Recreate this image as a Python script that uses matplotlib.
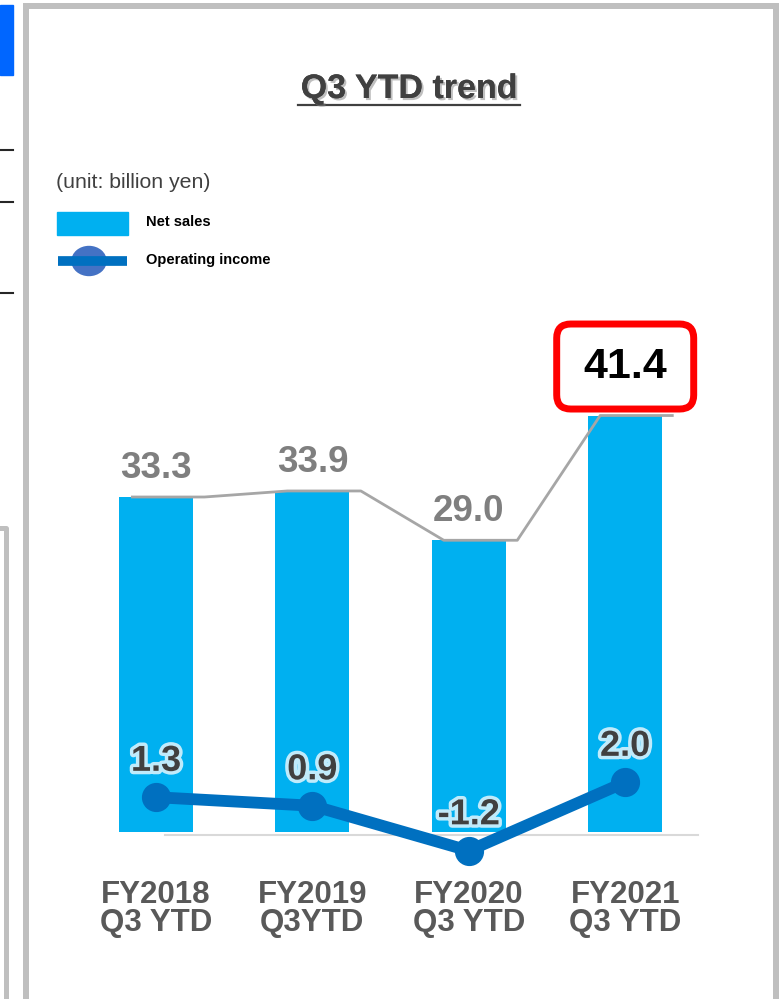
import numpy as np
import matplotlib.pyplot as plt
import matplotlib.patheffects as pe
from matplotlib.patches import Rectangle, FancyBboxPatch, Ellipse
from matplotlib.lines import Line2D

plt.rcParams['font.family'] = ['Liberation Sans', 'DejaVu Sans']

# data (billion yen)
periods = ["FY2018\nQ3 YTD", "FY2019\nQ3YTD", "FY2020\nQ3 YTD", "FY2021\nQ3 YTD"]
net_sales = [33.3, 33.9, 29.0, 41.4]
op_income = [1.3, 0.9, -1.2, 2.0]

BAR_C = '#00B0F0'
LINE_C = '#0070C0'
GREY_TXT = '#7F7F7F'
DARK_TXT = '#404040'
FRAME_C = '#BFBFBF'

W, H = 779, 999
fig = plt.figure(figsize=(W / 100, H / 100), dpi=100)


def fx(x):
    return x / W


def fy(y):
    return 1 - y / H


# ---- chart axes (net sales on ax, operating income on ax2)
ax = fig.add_axes([fx(77.8), fy(862.2), 625.6 / W, 482.9 / H])
ax.set_xlim(-0.5, 3.5)
ax.set_ylim(-3, 45)
x = np.arange(len(periods))

ax.bar(x, net_sales, width=0.473, color=BAR_C, zorder=2)

# step connector over the bar tops
cx, cy = [], []
for i, v in zip(x, net_sales):
    cx += [i - 0.16, i + 0.31]
    cy += [v, v]
ax.plot(cx, cy, color='#A6A6A6', lw=2, zorder=3, solid_capstyle='butt')

# baseline
ax.plot([0.06, 3.465], [-0.3, -0.3], color='#D9D9D9', lw=1.5, zorder=1)

for i, v in zip(x[:-1], net_sales[:-1]):
    ax.annotate(f"{v:.1f}", (i, v), xytext=(0, 14), textcoords='offset points',
                ha='center', va='baseline', fontsize=26.5, fontweight='bold',
                color=GREY_TXT)

# highlighted latest value in a red rounded box
last = len(net_sales) - 1
box_w, box_h = 0.876, 8.45
box_cy = net_sales[last] + 4.87
aspect = 156.4 / 10.06
box = FancyBboxPatch((x[last] - box_w / 2, box_cy - box_h / 2), box_w, box_h,
                     boxstyle='round,pad=0,rounding_size=0.09',
                     mutation_aspect=aspect, fc='white', ec='#FF0000', lw=5,
                     clip_on=False, zorder=4)
ax.add_patch(box)
ax.text(x[last], box_cy, f"{net_sales[last]:.1f}", ha='center', va='center',
        fontsize=31, fontweight='bold', color='black', zorder=5, clip_on=False)

ax.set_xticks(x, periods)
ax.tick_params(axis='x', length=0, pad=13)
for lab in ax.get_xticklabels():
    lab.set_fontsize(22.5)
    lab.set_fontweight('bold')
    lab.set_color('#595959')
    lab.set_linespacing(0.9)
ax.set_yticks([])
for s in ax.spines.values():
    s.set_visible(False)

ax2 = ax.twinx()
ax2.set_ylim(-1.738, 20.83)
ax2.plot(x, op_income, color=LINE_C, lw=8.5, marker='o', markersize=20,
         solid_capstyle='round', zorder=5, clip_on=False)
for i, v in zip(x, op_income):
    ax2.annotate(f"{v:.1f}", (i, v), xytext=(0, 19), textcoords='offset points',
                 ha='center', va='baseline', fontsize=26, fontweight='bold',
                 color=DARK_TXT,
                 path_effects=[pe.withStroke(linewidth=5, foreground='#F2FAFF', alpha=0.8)])
ax2.set_yticks([])
for s in ax2.spines.values():
    s.set_visible(False)

# ---- title
fig.text(fx(409), fy(98), "Q3 YTD trend", ha='center', va='baseline', fontsize=24.5,
         fontweight='bold', color=DARK_TXT,
         path_effects=[pe.withSimplePatchShadow(offset=(1.5, -1.5), shadow_rgbFace='#808080', alpha=0.5),
                       pe.Normal()])
fig.add_artist(Line2D([fx(298), fx(520)], [fy(104.5), fy(104.5)], color=DARK_TXT, lw=1.6))

# ---- legend
fig.text(fx(56), fy(183), "(unit: billion yen)", ha='left', va='center', fontsize=15.3, color=DARK_TXT)
fig.add_artist(Rectangle((fx(57), fy(235)), 71 / W, 23 / H, color=BAR_C))
fig.text(fx(146), fy(222), "Net sales", ha='left', va='center', fontsize=10.5,
         fontweight='bold', color='black')
fig.add_artist(Line2D([fx(58), fx(127)], [fy(261), fy(261)], color=LINE_C, lw=7,
                      solid_capstyle='butt'))
fig.add_artist(Ellipse((fx(89), fy(261)), 34 / W, 29 / H, color='#4472C4'))
fig.text(fx(146), fy(260), "Operating income", ha='left', va='center', fontsize=10.5,
         fontweight='bold', color='black')

# ---- slide frame and neighbouring slide fragments
fig.add_artist(Rectangle((fx(26), fy(1020)), 750 / W, 1014.5 / H, fill=False,
                         ec=FRAME_C, lw=4.3))
fig.add_artist(Rectangle((0, fy(75)), 13 / W, 70 / H, color='#0066FF'))
for yy in [150, 202, 293]:
    fig.add_artist(Line2D([0, fx(13)], [fy(yy), fy(yy)], color='#262626', lw=1.5))
fig.add_artist(Line2D([0, fx(5.5), fx(5.5)], [fy(528), fy(528), 0], color=FRAME_C, lw=3.6))

fig.savefig('out.png', dpi=100)
